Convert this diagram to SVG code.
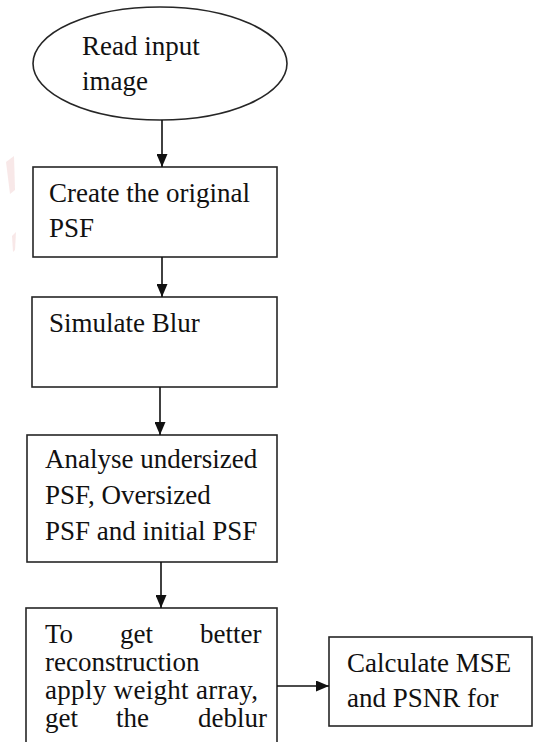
<svg xmlns="http://www.w3.org/2000/svg" width="533" height="742" viewBox="0 0 533 742">
  <style>
    .shape { fill: #ffffff; stroke: #262626; stroke-width: 1.6; }
    .link { stroke: #111111; stroke-width: 1.6; fill: none; marker-end: url(#head); }
    .mark { fill: #f3d6d6; opacity: 0.55; }
  </style>
  <defs>
    <marker id="head" markerUnits="userSpaceOnUse" markerWidth="13" markerHeight="11" refX="13" refY="5.5" orient="auto">
      <path d="M0,0 L13,5.5 L0,11 z" fill="#111111"/>
    </marker>
  </defs>

  <rect width="533" height="742" fill="#ffffff"/>

  <!-- faint background marks at left edge -->
  <g id="bg-marks">
    <polygon class="mark" points="6,162 14,156 15,190 10,194"/>
    <polygon class="mark" points="12,236 16,232 15,250 13,252"/>
  </g>

  <g font-family="Liberation Serif, Times New Roman, serif" font-size="27" fill="#111111">
    <g id="start">
      <ellipse class="shape" cx="160" cy="63.5" rx="127" ry="56.5"/>
      <text x="82" y="55">Read input</text>
      <text x="82" y="90">image</text>
    </g>

    <g id="create-psf">
      <rect class="shape" x="33" y="167" width="244" height="90"/>
      <text x="49" y="202">Create the original</text>
      <text x="49" y="237">PSF</text>
    </g>

    <g id="simulate-blur">
      <rect class="shape" x="32" y="297" width="245" height="90"/>
      <text x="49" y="332">Simulate Blur</text>
    </g>

    <g id="analyse-psf">
      <rect class="shape" x="27" y="435" width="250" height="127"/>
      <text x="45" y="468">Analyse undersized</text>
      <text x="45" y="504">PSF, Oversized</text>
      <text x="45" y="540">PSF and initial PSF</text>
    </g>

    <g id="reconstruct">
      <rect class="shape" x="26" y="608" width="251" height="150"/>
      <text y="643"><tspan x="45">To</tspan><tspan x="120">get</tspan><tspan x="200">better</tspan></text>
      <text x="45" y="671">reconstruction</text>
      <text x="45" y="699" textLength="213" lengthAdjust="spacing">apply weight array,</text>
      <text y="727"><tspan x="45">get</tspan><tspan x="116">the</tspan><tspan x="198">deblur</tspan></text>
    </g>

    <g id="metrics">
      <rect class="shape" x="329" y="637" width="203" height="89"/>
      <text x="347" y="672">Calculate MSE</text>
      <text x="347" y="707">and PSNR for</text>
    </g>
  </g>

  <g id="connectors">
    <line class="link" x1="162" y1="120" x2="162" y2="167"/>
    <line class="link" x1="162" y1="257" x2="162" y2="297"/>
    <line class="link" x1="160" y1="387" x2="160" y2="435"/>
    <line class="link" x1="161" y1="562" x2="161" y2="608"/>
    <line class="link" x1="277" y1="686" x2="329" y2="686"/>
  </g>
</svg>
